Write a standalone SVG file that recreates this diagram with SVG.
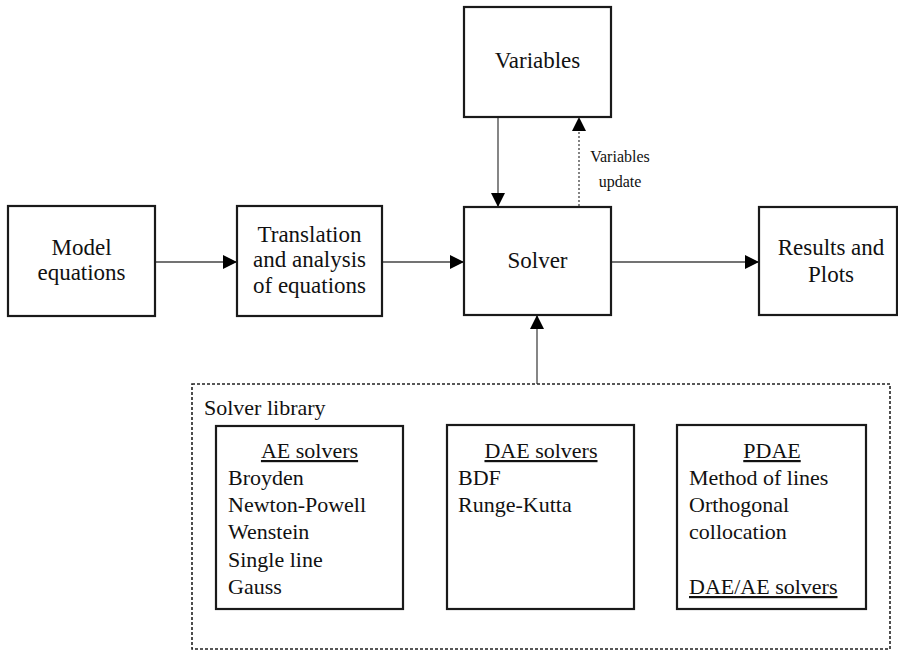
<svg xmlns="http://www.w3.org/2000/svg" width="898" height="651" viewBox="0 0 898 651">
<defs>
<marker id="ah" markerWidth="14" markerHeight="14" refX="13" refY="7" orient="auto" markerUnits="userSpaceOnUse">
<path d="M0,0 L14,7 L0,14 Z" fill="#000"/>
</marker>
<style>
.box{fill:#fff;stroke:#1a1a1a;stroke-width:2.2}
.t{font-family:"Liberation Serif","Times New Roman",serif;font-size:23px;fill:#111}
.s{font-family:"Liberation Serif","Times New Roman",serif;font-size:22px;fill:#111}
.sm{font-family:"Liberation Serif","Times New Roman",serif;font-size:16px;fill:#111}
.c{text-anchor:middle}
.ln{stroke:#444;stroke-width:1.3;fill:none}
.dot{stroke:#333;stroke-width:1.2;stroke-dasharray:2,2;fill:none}
.u{text-decoration:underline}
</style>
</defs>
<rect width="898" height="651" fill="#fff"/>
<g id="connectors">
<line class="ln" x1="155" y1="262" x2="236" y2="262" marker-end="url(#ah)"/>
<line class="ln" x1="382" y1="262" x2="463" y2="262" marker-end="url(#ah)"/>
<line class="ln" x1="611" y1="262" x2="758" y2="262" marker-end="url(#ah)"/>
<line class="ln" x1="498" y1="117" x2="498" y2="206" marker-end="url(#ah)"/>
<line class="dot" x1="579" y1="206" x2="579" y2="118" marker-end="url(#ah)"/>
<line class="ln" x1="537" y1="384" x2="537" y2="316" marker-end="url(#ah)"/>
<text class="sm c" x="620" y="162">Variables</text>
<text class="sm c" x="620" y="187">update</text>
</g>
<g id="model">
<rect class="box" x="8" y="206" width="147" height="110"/>
<text class="t c" x="81.5" y="255">Model</text>
<text class="t c" x="81.5" y="280">equations</text>
</g>
<g id="translation">
<rect class="box" x="237" y="206" width="145" height="110"/>
<text class="t c" x="309.5" y="242">Translation</text>
<text class="t c" x="309.5" y="267">and analysis</text>
<text class="t c" x="309.5" y="293">of equations</text>
</g>
<g id="variables">
<rect class="box" x="464" y="7" width="147" height="110"/>
<text class="t c" x="537.5" y="68">Variables</text>
</g>
<g id="solver">
<rect class="box" x="464" y="207" width="147" height="108"/>
<text class="t c" x="537.5" y="268">Solver</text>
</g>
<g id="results">
<rect class="box" x="759" y="207" width="138" height="108"/>
<text class="t c" x="831" y="255">Results and</text>
<text class="t c" x="831" y="282">Plots</text>
</g>
<g id="library">
<rect x="192" y="384" width="698" height="265" fill="none" stroke="#222" stroke-width="1.6" stroke-dasharray="3,2"/>
<text class="s" x="204" y="415">Solver library</text>
</g>
<g id="ae">
<rect class="box" x="216" y="426" width="187" height="183"/>
<text class="s c u" x="309.5" y="458">AE solvers</text>
<text class="s" x="228" y="485">Broyden</text>
<text class="s" x="228" y="512">Newton-Powell</text>
<text class="s" x="228" y="539">Wenstein</text>
<text class="s" x="228" y="567">Single line</text>
<text class="s" x="228" y="594">Gauss</text>
</g>
<g id="dae">
<rect class="box" x="447" y="425" width="187" height="184"/>
<text class="s c u" x="541" y="458">DAE solvers</text>
<text class="s" x="458" y="485">BDF</text>
<text class="s" x="458" y="512">Runge-Kutta</text>
</g>
<g id="pdae">
<rect class="box" x="677" y="425" width="189" height="184"/>
<text class="s c u" x="772" y="458">PDAE</text>
<text class="s" x="689" y="485">Method of lines</text>
<text class="s" x="689" y="512">Orthogonal</text>
<text class="s" x="689" y="539">collocation</text>
<text class="s u" x="689" y="594">DAE/AE solvers</text>
</g>
</svg>
